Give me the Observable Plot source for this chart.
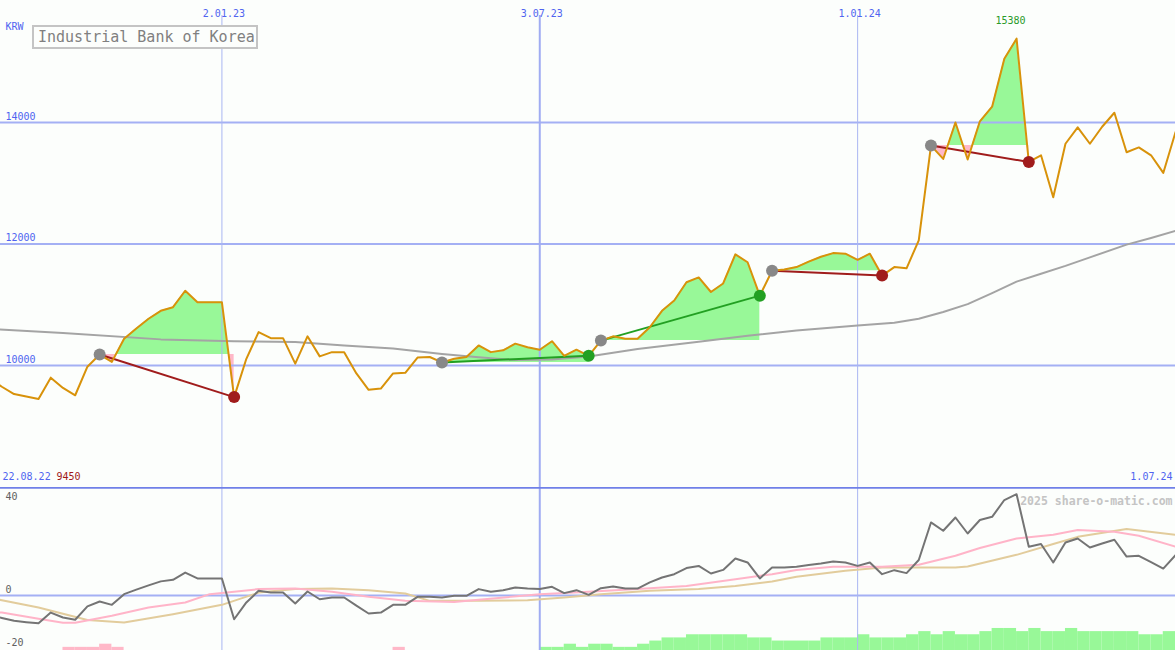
<!DOCTYPE html>
<html><head><meta charset="utf-8">
<script src="https://cdn.jsdelivr.net/npm/d3@7"></script>
<script src="https://cdn.jsdelivr.net/npm/@observablehq/plot@0.6"></script>
<style>
body{margin:0;background:#fcfefc;}
#chart{position:relative;width:1175px;height:650px;overflow:hidden;background:#fcfefc;font-family:"DejaVu Sans Mono",monospace;}
#chart svg{position:absolute;left:0;overflow:hidden;}
#title{position:absolute;left:32px;top:25px;width:218px;height:20px;border:2px solid #c4c4c4;color:#808080;font-size:15px;line-height:20px;padding-left:4px;white-space:nowrap;background:#fcfefc;z-index:5;}
</style></head>
<body>
<div id="chart"><div id="title">Industrial Bank of Korea</div></div>
<script>
// ---- data (weekly closes, KRW) from 22.08.22 to 1.07.24 ----
const firstWeek = "2022-08-22";
const close = [
  9790, 9650, 9530, 9490, 9450, 9800, 9630, 9510, 9980, 10180,
  10060, 10440, 10610, 10770, 10900, 10960, 11230, 11040, 11040, 11040,
  9480, 10110, 10550, 10450, 10450, 10030, 10480, 10150, 10220, 10220,
  9870, 9600, 9620, 9870, 9880, 10130, 10140, 10050, 10110, 10140,
  10330, 10220, 10250, 10360, 10300, 10260, 10400, 10160, 10260, 10160,
  10410, 10480, 10440, 10440, 10630, 10900, 11070, 11370, 11450, 11210,
  11350, 11830, 11700, 11150, 11560, 11580, 11620, 11710, 11790, 11850,
  11840, 11740, 11840, 11480, 11620, 11600, 12060, 13620, 13400, 14000,
  13390, 14020, 14260, 15050, 15380, 13350, 13460, 12770, 13650, 13920,
  13650, 13930, 14160, 13510, 13590, 13460, 13170, 13840
];
// deviation (%) shown in lower panel
const deviation = [
  -7.2, -8.4, -9.5, -10, -10.4, -6.4, -8.25, -9.1, -4.1, -2.25,
  -3.5, 0.5, 2.2, 3.8, 5.3, 5.9, 8.6, 6.4, 6.4, 6.4,
  -8.9, -2.6, 1.75, 1.1, 1.1, -3, 1.5, -1.4, -0.75, -0.75,
  -3.8, -6.75, -6.4, -3.5, -3.5, -0.5, -0.5, -0.75, -0.1, -0.1,
  2.4, 1.4, 2, 3, 2.6, 2.4, 3.25, 0.9, 2, 0.25,
  2.75, 3.4, 2.6, 2.6, 4.9, 6.75, 8, 10.3, 11.1, 8.25,
  9.6, 13.9, 12.4, 6.4, 10.5, 10.5, 10.75, 11.4, 12, 12.75,
  12.4, 11.1, 12.4, 8, 9.5, 8.4, 13.3, 27.4, 24.3, 29.25,
  23.25, 28.3, 29.5, 35.8, 38, 18.3, 19.3, 12.4, 19.9, 21.4,
  18, 19.5, 20.9, 14.6, 14.9, 12.5, 10.1, 15.1
];
// signal strength bars (negative = pink, positive = green)
const barLevel = [
  0, 0, 0, 0, 0, 0, -1, -1, -1, -2,
  -1, 0, 0, 0, 0, 0, 0, 0, 0, 0,
  0, 0, 0, 0, 0, 0, 0, 0, 0, 0,
  0, 0, 0, -1, 0, 0, 0, 0, 0, 0,
  0, 0, 0, 0, 0, 1, 1, 2, 1, 2,
  2, 1, 1, 2, 3, 4, 4, 5, 5, 5,
  5, 5, 4, 4, 3, 3, 3, 3, 4, 4,
  4, 5, 4, 4, 4, 5, 6, 5, 6, 5,
  5, 6, 7, 7, 6, 7, 6, 6, 7, 6,
  6, 6, 6, 6, 5, 5, 6, 6
];
// long moving average (week index, KRW)
const maWeek = [0, 6, 14, 20, 25, 29, 33, 37, 40, 43, 46, 49, 53, 58, 62, 66, 71, 74, 76, 78, 80, 82, 84, 86, 88, 90, 93, 95, 97];
const maValue = [10600, 10535, 10430, 10400, 10385, 10330, 10280, 10190, 10135, 10090, 10100, 10150, 10270, 10390, 10490, 10575, 10660, 10705, 10770, 10880, 11010, 11190, 11380, 11510, 11640, 11780, 11990, 12100, 12215];
// short average of deviation (pink) and longer average (tan)
const pinkWeek = [0, 1, 4, 6, 7, 10, 13, 16, 18, 20, 22, 25, 28, 31, 34, 38, 40, 45, 49, 53, 57, 61, 64, 66, 69, 73, 76, 79, 81, 84, 87, 89, 92, 94, 97];
const pinkValue = [-6.0, -6.4, -8.7, -10.2, -10.2, -7.6, -4.5, -2.6, 0.5, 1.4, 2.4, 2.6, 1.4, -0.5, -2.0, -2.4, -1.6, 0.5, 1.4, 2.4, 3.6, 6.1, 8, 9.6, 10.75, 10.75, 11.5, 14.9, 17.8, 21.4, 22.8, 24.6, 23.9, 22.4, 18.3];
const tanWeek = [0, 1, 4, 8, 11, 15, 19, 22, 25, 28, 31, 34, 36, 40, 44, 47, 50, 54, 58, 61, 64, 66, 70, 73, 79, 80, 84, 87, 89, 93, 97];
const tanValue = [-1.0, -1.75, -4.5, -9.2, -10.1, -7, -3.5, 1.1, 2.4, 2.6, 2, 0.75, -2, -2, -1.75, -0.75, 0.5, 1.75, 2.4, 3.6, 5.25, 7, 9.25, 10.5, 10.5, 10.9, 15.25, 19.3, 22, 24.9, 22.8];
// trades: entry / exit week index
const tradeEntry = [9, 37, 50, 64, 77];
const tradeExit = [20, 49, 63, 73, 85];
const priceTicks = [10000, 12000, 14000];
const lowerTicks = [40, 0, -20];
const dateTicks = ["2023-01-02", "2023-07-03", "2024-01-01"];
const currency = "KRW";
const credit = "2025 share-o-matic.com";

// ---- build ----
const DAY = 864e5;
const t0 = new Date(firstWeek + "T00:00:00Z").getTime();
const dates = close.map((_, i) => new Date(t0 + i * 7 * DAY));
const data = close.map((c, i) => ({date: dates[i], next: new Date(t0 + (i + 1) * 7 * DAY), close: c, dev: deviation[i], lvl: barLevel[i]}));
const ma = maWeek.map((w, i) => ({date: dates[w], v: maValue[i]}));
const pink = pinkWeek.map((w, i) => ({date: dates[w], v: pinkValue[i]}));
const tan = tanWeek.map((w, i) => ({date: dates[w], v: tanValue[i]}));
const ticks = dateTicks.map(s => new Date(s + "T00:00:00Z"));
const trades = tradeEntry.map((e, i) => ({id: i, d1: dates[e], p1: close[e], d2: dates[tradeExit[i]], p2: close[tradeExit[i]], gain: close[tradeExit[i]] >= close[e]}));
const fills = [];
trades.forEach((t, ti) => {
  const e = t.p1, a0 = tradeEntry[ti], a1 = tradeExit[ti];
  for (let i = a0; i <= a1; i++) {
    if (i > a0) {
      const a = close[i - 1], b = close[i];
      if ((a - e) * (b - e) < 0) {
        const f = (e - a) / (b - a);
        fills.push({id: ti, date: new Date(dates[i - 1].getTime() + f * (dates[i] - dates[i - 1])), v: e, base: e});
      }
    }
    fills.push({id: ti, date: dates[i], v: close[i], base: e});
  }
});
const fmt = d3.utcFormat("%-d.%m.%y");
const maxI = d3.maxIndex(close), minV = d3.min(close);

const FONT = "DejaVu Sans Mono";
const BLUE = "#5064f0", GRID = "#a4b0f4", GREEN = "#98f898", PINK = "#ffb8c8";
const xDomain = [new Date("2022-08-28T05:30:00Z"), new Date("2024-07-01T00:00:00Z")];
const W = 1175;
const vStroke = d => d.getUTCMonth() === 6 ? "#a0acf2" : "#aab6f2";
const vWidth = d => d.getUTCMonth() === 6 ? 2 : 1;

const topPlot = Plot.plot({
  width: W, height: 488, margin: 0,
  style: {background: "transparent", overflow: "hidden"},
  x: {type: "utc", domain: xDomain, range: [0, W], axis: null},
  y: {domain: [7975.3, 16008.2], range: [488, 0], axis: null},
  marks: [
    Plot.areaY(fills, {x: "date", y1: "base", y2: d => Math.max(d.v, d.base), z: "id", fill: GREEN, curve: "linear"}),
    Plot.areaY(fills, {x: "date", y1: "base", y2: d => Math.min(d.v, d.base), z: "id", fill: PINK, curve: "linear"}),
    Plot.ruleY(priceTicks, {stroke: GRID, strokeWidth: 2}),
    Plot.ruleX(ticks, {stroke: vStroke, strokeWidth: vWidth, insetTop: 15}),
    Plot.line(ma, {x: "date", y: "v", stroke: "#a4a4a4", strokeWidth: 2}),
    Plot.link(trades, {x1: "d1", y1: "p1", x2: "d2", y2: "p2", stroke: d => d.gain ? "#22a022" : "#a01c1c", strokeWidth: 2}),
    Plot.line(data, {x: "date", y: "close", stroke: "#d8920a", strokeWidth: 2}),
    Plot.dot(trades, {x: "d1", y: "p1", r: 6, fill: "#888888"}),
    Plot.dot(trades, {x: "d2", y: "p2", r: 6, fill: d => d.gain ? "#22a022" : "#a01c1c"}),
    Plot.text(priceTicks, {y: d => d, frameAnchor: "left", dx: 5, dy: -6, text: d => String(d), textAnchor: "start", fill: BLUE, fontFamily: FONT, fontSize: 10}),
    Plot.text(ticks, {x: d => d, frameAnchor: "top", dy: 9, dx: 2, text: d => fmt(d), fill: BLUE, fontFamily: FONT, fontSize: 10}),
    Plot.text([currency], {frameAnchor: "top-left", dx: 5, dy: 22, text: d => d, fill: BLUE, fontFamily: FONT, fontSize: 10, textAnchor: "start"}),
    Plot.text([maxI], {x: i => dates[i], y: i => close[i], dy: -18, dx: -6, text: i => String(close[i]), fill: "#2a9a2a", fontFamily: FONT, fontSize: 10}),
    Plot.text([dates[0]], {frameAnchor: "bottom-left", dx: 2, dy: -9, text: d => fmt(d), fill: BLUE, fontFamily: FONT, fontSize: 10, textAnchor: "start"}),
    Plot.text([minV], {frameAnchor: "bottom-left", dx: 56, dy: -9, text: d => String(d), fill: "#a01818", fontFamily: FONT, fontSize: 10, textAnchor: "start"}),
    Plot.text([dates[dates.length - 1]], {frameAnchor: "bottom-right", dx: -3, dy: -9, text: d => fmt(d), fill: BLUE, fontFamily: FONT, fontSize: 10, textAnchor: "end"})
  ]
});

const yMin = -20.62, barUnit = 1.18;
const botPlot = Plot.plot({
  width: W, height: 163, margin: 0,
  style: {background: "transparent", overflow: "hidden"},
  x: {type: "utc", domain: xDomain, range: [0, W], axis: null},
  y: {domain: [yMin, 40.5], range: [163, 0], axis: null},
  marks: [
    Plot.rect(data.filter(d => d.lvl !== 0), {x1: "date", x2: "next", y1: yMin, y2: d => yMin + Math.abs(d.lvl) * barUnit, fill: d => d.lvl > 0 ? GREEN : PINK}),
    Plot.ruleY([0], {stroke: GRID, strokeWidth: 2}),
    Plot.ruleX(ticks, {stroke: vStroke, strokeWidth: vWidth}),
    Plot.ruleY([lowerTicks[0]], {stroke: "#7080e8", strokeWidth: 2, dy: -1}),
    Plot.line(tan, {x: "date", y: "v", stroke: "#e2cc9c", strokeWidth: 2}),
    Plot.line(pink, {x: "date", y: "v", stroke: "#ffb4c8", strokeWidth: 2}),
    Plot.line(data, {x: "date", y: "dev", stroke: "#747474", strokeWidth: 2}),
    Plot.text(lowerTicks.slice(0, 1), {y: d => d, x: xDomain[0], dx: 5, dy: 8, text: d => String(d), textAnchor: "start", fill: "#606060", fontFamily: FONT, fontSize: 10}),
    Plot.text(lowerTicks.slice(1), {y: d => d, x: xDomain[0], dx: 5, dy: -6, text: d => String(d), textAnchor: "start", fill: "#606060", fontFamily: FONT, fontSize: 10}),
    Plot.text([credit], {frameAnchor: "top-right", dx: -3, dy: 9, text: d => d, textAnchor: "end", fill: "#c4c4c4", fontFamily: FONT, fontSize: 11.5, fontWeight: "bold"})
  ]
});

const chart = document.getElementById("chart");
topPlot.style.top = "0px";
botPlot.style.top = "487px";
chart.appendChild(topPlot);
chart.appendChild(botPlot);
</script>
</body></html>
